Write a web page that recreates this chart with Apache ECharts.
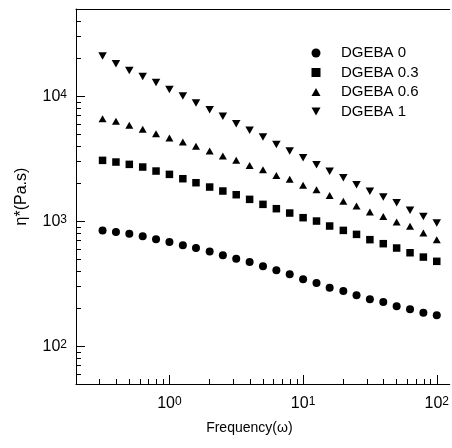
<!DOCTYPE html>
<html>
<head>
<meta charset="utf-8">
<script src="https://cdn.jsdelivr.net/npm/echarts@6/dist/echarts.min.js"></script>
<style>
  html, body { margin: 0; padding: 0; background: #fff; }
  #chart { width: 452px; height: 448px; }
</style>
</head>
<body>
<div id="chart"></div>
<script>
// Complex viscosity vs. angular frequency for several DGEBA contents
const frequency = [0.316, 0.398, 0.501, 0.631, 0.794, 1.0, 1.26, 1.58, 2.0, 2.51,
                   3.16, 3.98, 5.01, 6.31, 7.94, 10.0, 12.6, 15.8, 20.0, 25.1,
                   31.6, 39.8, 50.1, 63.1, 79.4, 100];

const dgeba0  = [847, 822, 797, 759, 718, 683, 643, 612, 575, 535,
                 503, 473, 437, 406, 377, 344, 321, 295, 277, 256,
                 238, 226, 209, 198, 186, 177];
const dgeba03 = [3076, 2983, 2858, 2721, 2527, 2377, 2194, 2038, 1882, 1749,
                 1634, 1500, 1368, 1263, 1166, 1070, 1006, 918, 847, 787,
                 714, 663, 612, 561, 518, 479];
const dgeba06 = [6627, 6310, 5861, 5445, 5026, 4642, 4312, 3981, 3653, 3332,
                 3076, 2805, 2590, 2333, 2168, 1941, 1792, 1614, 1450, 1327,
                 1188, 1096, 988, 912, 807, 714];
const dgeba1  = [20990, 18260, 16140, 14450, 12940, 11370, 10060, 8845, 7825, 6920,
                 6044, 5346, 4729, 4130, 3653, 3231, 2841, 2512, 2235, 1965,
                 1738, 1565, 1406, 1225, 1096, 970];

const seriesNames = ['DGEBA 0', 'DGEBA 0.3', 'DGEBA 0.6', 'DGEBA 1'];

// Tick positions
const xMajorTicks = [1, 10, 100];
const xMinorTicks = [0.3, 0.4, 0.5, 0.6, 0.7, 0.8, 0.9,
                     2, 3, 4, 5, 6, 7, 8, 9,
                     20, 30, 40, 50, 60, 70, 80, 90];
const yMajorTicks = [100, 1000, 10000];
const yMinorTicks = [60, 70, 80, 90,
                     200, 300, 400, 500, 600, 700, 800, 900,
                     2000, 3000, 4000, 5000, 6000, 7000, 8000, 9000,
                     20000, 30000, 40000];

const FONT = '"Liberation Sans", Arial, sans-serif';
const pairs = ys => frequency.map((f, i) => [f, ys[i]]);

const powerLabel = {
  formatter: v => '{b|10}{s|' + Math.round(Math.log10(v)) + '}',
  rich: {
    b: { fontSize: 16, lineHeight: 16, fontFamily: FONT, color: '#000' },
    s: { fontSize: 12, lineHeight: 12, fontFamily: FONT, color: '#000', verticalAlign: 'top', padding: [0, 0, 4, 0] }
  }
};

// Legend icons (down-pointing triangle drawn as a path)
const DOWN_TRIANGLE = 'path://M0,0 L10,0 L5,9 Z';
const UP_TRIANGLE = 'path://M5,0 L10,9 L0,9 Z';

const X_MIN = 0.2, X_MAX = 125, Y_MIN = 50, Y_MAX = 50000;

const chart = echarts.init(document.getElementById('chart'), null, { renderer: 'canvas' });

chart.setOption({
  backgroundColor: '#fff',
  animation: false,
  textStyle: { fontFamily: FONT },
  grid: { left: 76, right: 1, top: 9, bottom: 64, containLabel: false },
  legend: {
    data: [
      { name: seriesNames[0], icon: 'circle' },
      { name: seriesNames[1], icon: 'rect' },
      { name: seriesNames[2], icon: UP_TRIANGLE },
      { name: seriesNames[3], icon: DOWN_TRIANGLE }
    ],
    orient: 'vertical',
    left: 311.5,
    top: 45.5,
    padding: 0,
    itemWidth: 9,
    itemHeight: 9,
    itemGap: 4.5,
    symbolRotate: 0,
    textStyle: { fontSize: 15, fontFamily: FONT, color: '#000', padding: [0, 0, 0, 15.5] },
    itemStyle: { opacity: 1 },
    inactiveColor: '#000'
  },
  xAxis: [
    {
      type: 'log', min: X_MIN, max: X_MAX, position: 'bottom',
      name: 'Frequency(\u03c9)', nameLocation: 'middle', nameGap: 37,
      nameTextStyle: { fontSize: 14, fontFamily: FONT, color: '#000', padding: [0, 27, 0, 0] },
      axisLine: { show: true, lineStyle: { color: '#000', width: 1 } },
      axisTick: { show: true, inside: true, length: 9, customValues: xMajorTicks, lineStyle: { color: '#000' } },
      axisLabel: Object.assign({ margin: 12, customValues: xMajorTicks }, powerLabel),
      splitLine: { show: false }
    },
    {
      type: 'log', min: X_MIN, max: X_MAX, position: 'bottom',
      axisLine: { show: false },
      axisTick: { show: true, inside: true, length: 5, customValues: xMinorTicks, lineStyle: { color: '#000' } },
      axisLabel: { show: false },
      splitLine: { show: false }
    },
    {
      type: 'log', min: X_MIN, max: X_MAX, position: 'top',
      axisLine: { show: true, lineStyle: { color: '#000', width: 1 } },
      axisTick: { show: false },
      axisLabel: { show: false },
      splitLine: { show: false }
    }
  ],
  yAxis: [
    {
      type: 'log', min: Y_MIN, max: Y_MAX, position: 'left',
      name: '\u03b7*(Pa.s)', nameLocation: 'middle', nameGap: 46,
      nameTextStyle: { fontSize: 16, fontFamily: FONT, color: '#000' },
      axisLine: { show: true, lineStyle: { color: '#000', width: 1 } },
      axisTick: { show: true, inside: true, length: 9, customValues: yMajorTicks, lineStyle: { color: '#000' } },
      axisLabel: Object.assign({ margin: 9, customValues: yMajorTicks }, powerLabel),
      splitLine: { show: false }
    },
    {
      type: 'log', min: Y_MIN, max: Y_MAX, position: 'left',
      axisLine: { show: false },
      axisTick: { show: true, inside: true, length: 5, customValues: yMinorTicks, lineStyle: { color: '#000' } },
      axisLabel: { show: false },
      splitLine: { show: false }
    }
  ],
  series: [
    { name: seriesNames[0], type: 'scatter', data: pairs(dgeba0),
      symbol: 'circle', symbolSize: 8, itemStyle: { color: '#000', opacity: 1 } },
    { name: seriesNames[1], type: 'scatter', data: pairs(dgeba03),
      symbol: 'rect', symbolSize: 7.5, itemStyle: { color: '#000', opacity: 1 } },
    { name: seriesNames[2], type: 'scatter', data: pairs(dgeba06),
      symbol: 'triangle', symbolSize: [8, 7], itemStyle: { color: '#000', opacity: 1 } },
    { name: seriesNames[3], type: 'scatter', data: pairs(dgeba1),
      symbol: 'triangle', symbolRotate: 180, symbolSize: [8.5, 7.5], itemStyle: { color: '#000', opacity: 1 } }
  ]
});
</script>
</body>
</html>
